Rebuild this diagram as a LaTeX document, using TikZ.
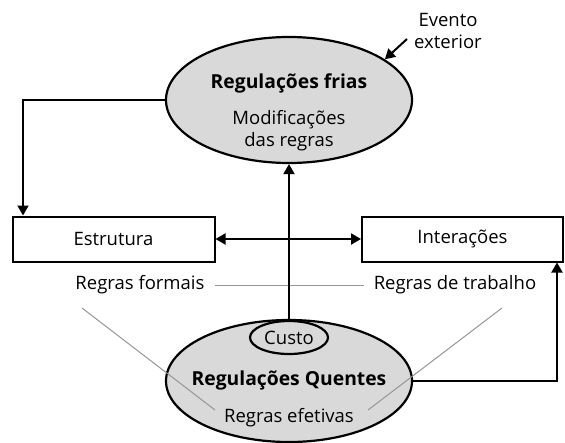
\documentclass[tikz,border=0pt]{standalone}
\usepackage{fontspec}
\setmainfont{Open Sans}
\usetikzlibrary{shapes.geometric,arrows.meta}
\definecolor{ellfill}{RGB}{217,217,217}
\definecolor{thin}{RGB}{150,150,150}
\tikzset{
  txt/.style={font=\fontsize{18.5}{22}\selectfont, inner sep=0pt, align=center},
  btxt/.style={txt, font=\fontsize{19.3}{22}\selectfont\bfseries},
  bigell/.style={ellipse, draw, line width=2.2pt, fill=ellfill, inner sep=0pt},
  smallell/.style={ellipse, draw, line width=2.2pt, fill=ellfill, inner sep=0pt, font=\fontsize{18.5}{22}\selectfont},
  boxnode/.style={rectangle, draw, line width=2pt, fill=white, inner sep=0pt, font=\fontsize{18.5}{22}\selectfont},
  conn/.style={line width=2pt, -{Triangle[length=10pt,width=11pt]}},
  dconn/.style={line width=2pt, {Triangle[length=10pt,width=11pt]}-{Triangle[length=10pt,width=11pt]}},
  gline/.style={draw=thin, line width=1pt},
}
\begin{document}
\begin{tikzpicture}[x=1pt,y=-1pt]
\useasboundingbox (0,0) rectangle (565,442);
% shapes
\node[bigell, minimum width=246pt, minimum height=126pt] (frias) at (289,100) {};
\node[bigell, minimum width=246pt, minimum height=122pt] (quentes) at (289,381) {};
\node[smallell, minimum width=78pt, minimum height=33pt] (custo) at (289,337.5) {Custo};
\node[boxnode, minimum width=202pt, minimum height=45pt] (estrutura) at (113.5,239) {Estrutura};
\node[boxnode, minimum width=201pt, minimum height=45pt] (interacoes) at (462.5,239) {Interações};
% labels
\node[btxt] (friastitle) at (289,83) {Regulações frias};
\node[txt] (mod) at (289,131) {Modificações\\das regras};
\node[btxt] (quentestitle) at (289,380) {Regulações Quentes};
\node[txt] (efetivas) at (289,418) {Regras efetivas};
\node[txt, inner xsep=10pt] (formais) at (140,285) {Regras formais};
\node[txt, inner xsep=10pt] (trabalho) at (455,285) {Regras de trabalho};
\node[txt] (evento) at (448,31) {Evento\\exterior};
% coordinates
\coordinate (cl) at (23,100);
\coordinate (cr) at (557,381);
\coordinate (ev) at (407,39);
\coordinate (gl1) at (82,308);
\coordinate (gl2) at (215,410);
\coordinate (gr1) at (502,308);
\coordinate (gr2) at (368,410);
% thin gray lines
\draw[gline] (formais.east) -- (trabalho.west);
\draw[gline] (gl1) -- (gl2);
\draw[gline] (gr1) -- (gr2);
% connectors
\draw[conn] (frias.west) -| (estrutura.north -| cl);
\draw[conn] (quentes.north) -- (frias.south);
\draw[dconn] (estrutura.east) -- (interacoes.west);
\draw[conn] (quentes.east) -| (interacoes.south -| cr);
\draw[conn] (ev) -- (frias.23);
\end{tikzpicture}
\end{document}
